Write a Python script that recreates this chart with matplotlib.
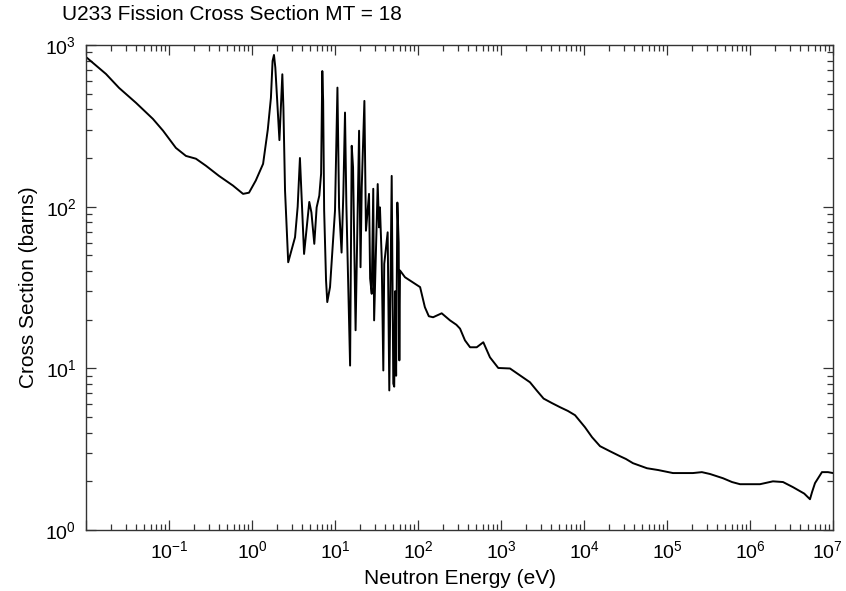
import matplotlib
matplotlib.use("Agg")
import matplotlib.pyplot as plt
import matplotlib.transforms as mtransforms
from matplotlib.ticker import LogLocator, NullFormatter

plt.rcParams['font.family'] = ['Liberation Sans', 'DejaVu Sans']
plt.rcParams['mathtext.fontset'] = 'custom'
plt.rcParams['mathtext.rm'] = 'Liberation Sans'
plt.rcParams['mathtext.it'] = 'Liberation Sans:italic'
plt.rcParams['mathtext.bf'] = 'Liberation Sans:bold'

title = "U233 Fission Cross Section MT = 18"
x_label = "Neutron Energy (eV)"
y_label = "Cross Section (barns)"

# Neutron energy (eV)
energy_eV = [
    0.01, 0.0174, 0.025, 0.040, 0.064, 0.0848, 0.121, 0.160, 0.211, 0.279,
    0.40, 0.59, 0.78, 0.92, 1.11, 1.36, 1.43, 1.55, 1.69, 1.77, 1.84, 1.91,
    1.98, 2.14, 2.32, 2.39, 2.50, 2.73, 3.30, 3.55, 3.78, 4.24, 4.90, 5.2,
    5.63, 6.01, 6.47, 6.8, 7.03, 7.2, 7.4, 7.8, 8.07, 8.71, 10.0, 10.7, 11.2,
    12.0, 12.6, 13.2, 13.7, 15.2, 15.9, 16.5, 17.7, 19.5, 20.3, 21.0, 22.6,
    23.6, 25.7, 26.5, 27.7, 28.9, 29.6, 32.7, 33.9, 34.8, 36.5, 38.2, 39.2,
    43.1, 45.1, 48.2, 50.4, 51.7, 53.0, 54.5, 56.4, 58.5, 59.6, 60.7, 69.7,
    80.2, 95, 106, 121, 135, 152, 193, 243, 290, 321, 368, 424, 510, 612, 736,
    927, 1283, 1694, 2234, 2690, 3260, 4100, 5140, 6400, 7800, 10280, 12500,
    15600, 20560, 27160, 32000, 38900, 57400, 78000, 118000, 205000, 263000,
    330000, 473000, 607000, 758000, 1.32e6, 1.89e6, 2.5e6, 3.3e6, 4.5e6,
    5.28e6, 5.6e6, 6.07e6, 7.36e6, 8.7e6, 1.0e7,
]

# Fission cross section (barns)
sigma_barns = [
    843, 662, 543, 439, 349, 295, 231, 206, 198, 179,
    155, 135, 120, 122, 145, 184, 222, 300, 471, 797, 868, 725,
    520, 258, 659, 410, 126, 45.3, 64.7, 100, 200, 51, 107, 92,
    58.9, 99, 117, 160, 690, 450, 95, 35, 25.7, 31.8, 94.5, 545, 99,
    52, 120, 382, 104, 10.4, 238, 175, 17.2, 295, 42.2, 132, 451,
    71, 120, 35.9, 28.9, 129, 19.8, 138, 74.5, 99, 48.7, 9.7, 44.3,
    69.4, 7.3, 155, 8.05, 7.7, 30, 9.0, 106, 60, 11.2, 40.3, 36.6,
    34.9, 33.0, 31.8, 23.9, 21.0, 20.7, 21.9, 19.8, 18.6, 17.6, 14.9, 13.5,
    13.5, 14.5, 11.7, 10.05, 9.98, 9.04, 8.2, 7.3, 6.5, 6.1, 5.75, 5.45,
    5.13, 4.32, 3.75, 3.30, 3.07, 2.86, 2.75, 2.59, 2.41, 2.35, 2.25, 2.25,
    2.28, 2.22, 2.09, 1.98, 1.92, 1.92, 2.0, 1.98, 1.84, 1.68, 1.55, 1.72,
    1.95, 2.28, 2.28, 2.25,
]

x_ticks = [1e-2, 1e-1, 1e0, 1e1, 1e2, 1e3, 1e4, 1e5, 1e6, 1e7]
x_tick_labels = ["", r"$10^{-1}$", r"$10^{0}$", r"$10^{1}$", r"$10^{2}$",
                 r"$10^{3}$", r"$10^{4}$", r"$10^{5}$", r"$10^{6}$", r"$10^{7}$"]
y_ticks = [1e0, 1e1, 1e2, 1e3]
y_tick_labels = [r"$10^{0}$", r"$10^{1}$", r"$10^{2}$", r"$10^{3}$"]

W, H = 846, 591
fig = plt.figure(figsize=(W / 100, H / 100), dpi=100)
ax = fig.add_axes([86 / W, 61 / H, (833 - 86) / W, (530 - 45) / H])

ax.plot(energy_eV, sigma_barns, color='black', lw=1.4, solid_joinstyle='round')
ax.set_xscale('log')
ax.set_yscale('log')
ax.set_xlim(1e-2, 1e7)
ax.set_ylim(1e0, 1e3)

ax.set_xticks(x_ticks)
ax.set_xticklabels(x_tick_labels)
ax.set_yticks(y_ticks)
ax.set_yticklabels(y_tick_labels)
ax.xaxis.set_minor_locator(LogLocator(base=10, subs=range(2, 10), numticks=20))
ax.yaxis.set_minor_locator(LogLocator(base=10, subs=range(2, 10), numticks=20))
ax.xaxis.set_minor_formatter(NullFormatter())
ax.yaxis.set_minor_formatter(NullFormatter())

ax.tick_params(which='both', direction='in', top=True, right=True, width=0.9, color='#333333')
ax.tick_params(which='major', length=7, labelsize=14, pad=7)
ax.tick_params(which='minor', length=4)
for s in ax.spines.values():
    s.set_linewidth(1.0)
    s.set_color('#333333')

# keep the rightmost x tick label inside the figure
last = ax.get_xticklabels()[-1]
last.set_transform(last.get_transform() +
                   mtransforms.ScaledTranslation(-6 / 100, 0, fig.dpi_scale_trans))

ax.set_xlabel(x_label, fontsize=15, labelpad=5)
ax.set_ylabel(y_label, fontsize=15, labelpad=5)
fig.text(62 / W, 1 - 15 / H, title, fontsize=15, ha='left', va='center')

fig.savefig("out.png", dpi=100)
